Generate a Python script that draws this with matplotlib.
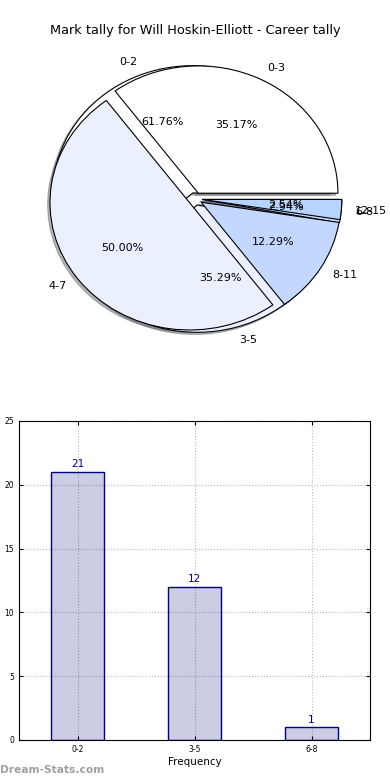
import matplotlib

matplotlib.use("Agg")
import matplotlib.pyplot as plt  # noqa: E402

TITLE = "Mark tally for Will Hoskin-Elliott - Career tally"

# career tally bins (outer pie)
tally_labels = ["0-3", "4-7", "8-11", "12-15"]
tally_pct = [35.17, 50.00, 12.29, 2.54]
tally_colors = ["#ffffff", "#eaf0fe", "#c4d8ff", "#b6d4ff"]

# frequency bins (second pie + bars)
freq_labels = ["0-2", "3-5", "6-8"]
freq_counts = [21, 12, 1]
freq_colors = ["#ffffff", "#eaf0fe", "#c4d8ff"]

WEDGE = {"linewidth": 0.8, "edgecolor": "black"}
SHADOW = {"ox": -0.012, "oy": -0.012, "shade": 0.55}

fig = plt.figure(figsize=(3.9, 7.8), dpi=100)
fig.patch.set_facecolor("white")

# pie panel: two pies drawn on the same axes
axp = fig.add_axes([0.053, 0.541, 0.895, 0.408])
axp.pie(freq_counts, labels=freq_labels, colors=freq_colors, autopct="%1.2f%%",
        explode=[0.05] * len(freq_counts), shadow=SHADOW, wedgeprops=WEDGE,
        textprops={"fontsize": 8})
axp.pie(tally_pct, labels=tally_labels, colors=tally_colors, autopct="%1.2f%%",
        explode=[0.05] * len(tally_pct), shadow=SHADOW, wedgeprops=WEDGE,
        textprops={"fontsize": 8})
axp.set_aspect("auto")
axp.set_xlim(-1.25, 1.25)
axp.set_ylim(-1.25, 1.25)
axp.set_title(TITLE, fontsize=9.3, pad=4)

# frequency bars
axb = fig.add_axes([0.049, 0.0513, 0.9, 0.409])
x = list(range(len(freq_counts)))
axb.bar(x, freq_counts, width=0.45, facecolor=(0, 0, 0.5, 0.2), edgecolor="navy",
        linewidth=1.0, zorder=2)
for xi, v in zip(x, freq_counts):
    axb.text(xi, v + 0.2, str(v), ha="center", va="bottom", color="navy", fontsize=7.5)
axb.set_xlim(-0.5, 2.5)
axb.set_ylim(0, 25)
axb.set_xticks(x)
axb.set_xticklabels(freq_labels, fontsize=5.5)
axb.set_yticks(range(0, 26, 5))
axb.tick_params(axis="y", labelsize=5.5)
axb.tick_params(direction="in", top=True, right=True, length=3)
axb.grid(True, color="#bbbbbb", linestyle=":", linewidth=0.8, zorder=0)
axb.set_xlabel("Frequency", fontsize=7.5, labelpad=2)
axb.set_ylabel("Occurrences", fontsize=7)
axb.yaxis.set_label_coords(-0.06, 0.5)

fig.text(0.0, 0.006, "Dream-Stats.com", fontsize=7.7, color="#a0a0a0",
         fontweight="bold", ha="left", va="bottom")

fig.savefig("out.png", facecolor="white")
